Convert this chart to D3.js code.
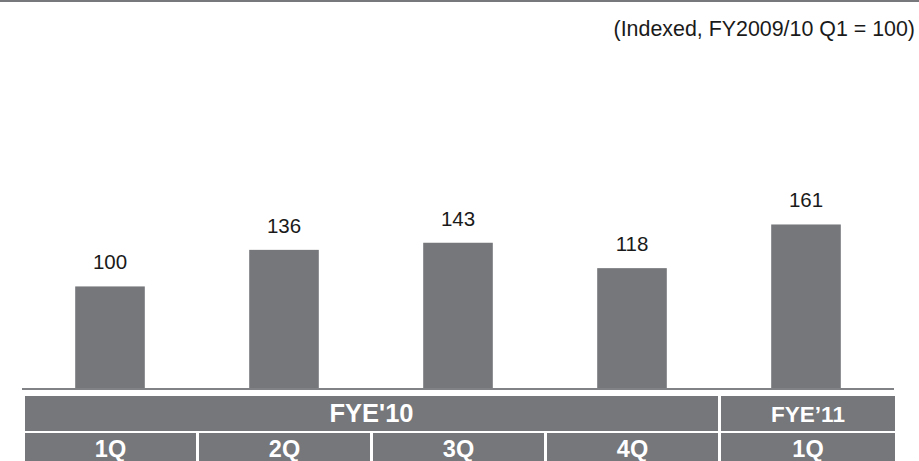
<!DOCTYPE html>
<html>
<head>
<meta charset="utf-8">
<script src="https://cdn.jsdelivr.net/npm/d3@7"></script>
<style>
  html, body { margin: 0; padding: 0; background: #fff; }
  svg { display: block; font-family: Arial, "Liberation Sans", Helvetica, sans-serif; }
</style>
</head>
<body>
<svg id="chart" width="919" height="461"></svg>
<script>
// Quarterly index values (FY2009/10 Q1 = 100)
const quarters = ["1Q", "2Q", "3Q", "4Q", "1Q "];
const indexValues = [100, 136, 143, 118, 161];
const quarterLabels = ["1Q", "2Q", "3Q", "4Q", "1Q"];
// Fiscal-year groups spanning the quarter columns
const yearLabels = ["FYE'10", "FYE\u201911"];
const yearSpans = [4, 1];
const note = "(Indexed, FY2009/10 Q1 = 100)";

const W = 919, H = 461;
const barColor = "#75777a";
const yearFontSize = [25.5, 22.5];
const svg = d3.select("#chart");

// top rule
svg.append("rect").attr("x", 0).attr("y", 0).attr("width", W).attr("height", 2).attr("fill", "#76787b");

svg.append("text")
  .attr("x", 915).attr("y", 36)
  .attr("text-anchor", "end")
  .attr("font-size", 21.4)
  .attr("fill", "#1a1a1a")
  .text(note);

const x = d3.scaleBand()
  .domain(quarters)
  .range([23, 893])
  .paddingInner(0.6)
  .paddingOuter(0.3);

const baseY = 388;
const y = d3.scaleLinear().domain([0, 382]).range([baseY, 0]);

svg.append("g").selectAll("rect")
  .data(indexValues)
  .join("rect")
  .attr("x", (d, i) => x(quarters[i]))
  .attr("y", d => y(d))
  .attr("width", x.bandwidth())
  .attr("height", d => y(0) - y(d))
  .attr("fill", barColor);

svg.append("g").selectAll("text")
  .data(indexValues)
  .join("text")
  .attr("x", (d, i) => x(quarters[i]) + x.bandwidth() / 2)
  .attr("y", d => y(d) - 17)
  .attr("text-anchor", "middle")
  .attr("font-size", 20.5)
  .attr("fill", "#1a1a1a")
  .text(d => d);

// baseline
svg.append("rect").attr("x", 22).attr("y", baseY).attr("width", 872).attr("height", 2).attr("fill", "#808285");

// header table under the bars
const step = x.step();
const colLeft = i => x(quarters[i]) - x.paddingOuter() * step + 2;
const gap = 3;

// fiscal-year row
let col = 0;
yearLabels.forEach((lab, k) => {
  const x0 = colLeft(col);
  const x1 = colLeft(col + yearSpans[k] - 1) + step;
  const last = k === yearLabels.length - 1;
  const w = (last ? x1 : x1 - gap) - x0;
  svg.append("rect").attr("x", x0).attr("y", 396).attr("width", w).attr("height", 35).attr("fill", barColor);
  svg.append("text")
    .attr("x", x0 + w / 2).attr("y", 422)
    .attr("text-anchor", "middle")
    .attr("font-size", yearFontSize[k]).attr("font-weight", "bold")
    .attr("fill", "#fff")
    .text(lab);
  col += yearSpans[k];
});

// quarter row
quarterLabels.forEach((lab, i) => {
  const x0 = colLeft(i);
  const last = i === quarterLabels.length - 1;
  const w = step - (last ? 0 : gap);
  svg.append("rect").attr("x", x0).attr("y", 433).attr("width", w).attr("height", 28).attr("fill", barColor);
  svg.append("text")
    .attr("x", x0 + w / 2).attr("y", 456.5)
    .attr("text-anchor", "middle")
    .attr("font-size", 23.5).attr("font-weight", "bold")
    .attr("fill", "#fff")
    .text(lab);
});
</script>
</body>
</html>
